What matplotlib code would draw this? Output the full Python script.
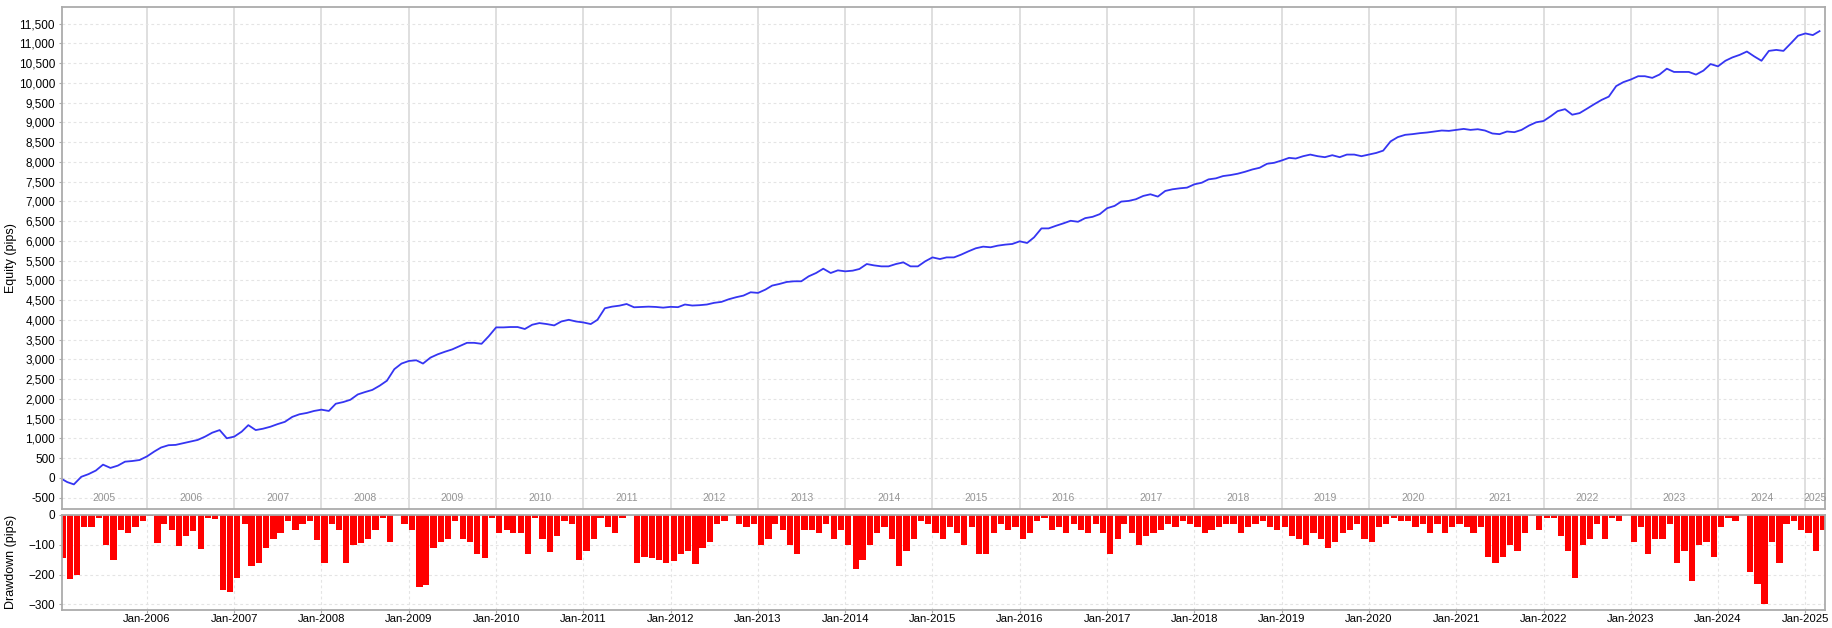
import numpy as np
import pandas as pd
import matplotlib
matplotlib.use("Agg")
import matplotlib.pyplot as plt
import matplotlib.dates as mdates
import matplotlib.ticker as mticker

# ============================================================
# Data (monthly)
# ============================================================
months = pd.date_range("2005-01-01", periods=243, freq="MS")

equity = [
    0, -108, -167, 25, 92, 183, 333, 250, 308, 408, 425, 450,
    542, 667, 767, 825, 833, 875, 917, 958, 1042, 1142, 1208, 1000,
    1042, 1167, 1333, 1208, 1242, 1292, 1358, 1417, 1542, 1608, 1642, 1692,
    1725, 1692, 1875, 1917, 1975, 2110, 2170, 2225, 2333, 2458, 2750, 2892,
    2958, 2975, 2892, 3042, 3125, 3192, 3250, 3333, 3417, 3417, 3392, 3583,
    3808, 3808, 3817, 3817, 3767, 3875, 3917, 3892, 3858, 3958, 4000, 3958,
    3933, 3892, 4000, 4292, 4333, 4358, 4400, 4317, 4325, 4333, 4325, 4308,
    4328, 4320, 4387, 4361, 4370, 4387, 4429, 4454, 4521, 4571, 4613, 4697,
    4681, 4765, 4866, 4908, 4958, 4975, 4975, 5101, 5185, 5294, 5185, 5252,
    5227, 5244, 5286, 5412, 5378, 5353, 5353, 5412, 5454, 5353, 5353, 5479,
    5580, 5538, 5580, 5580, 5650, 5735, 5810, 5852, 5836, 5877, 5903, 5920,
    5987, 5945, 6087, 6314, 6314, 6381, 6440, 6507, 6482, 6574, 6607, 6675,
    6826, 6884, 6993, 7010, 7052, 7136, 7178, 7119, 7262, 7304, 7329, 7346,
    7430, 7471, 7555, 7581, 7639, 7664, 7698, 7748, 7807, 7849, 7950, 7975,
    8033, 8100, 8083, 8142, 8183, 8142, 8117, 8167, 8117, 8183, 8183, 8142,
    8183, 8225, 8283, 8517, 8625, 8683, 8700, 8725, 8742, 8767, 8792, 8783,
    8808, 8833, 8808, 8825, 8792, 8717, 8700, 8767, 8750, 8808, 8917, 9000,
    9033, 9158, 9283, 9333, 9192, 9233, 9342, 9458, 9567, 9650, 9917, 10017,
    10083, 10167, 10167, 10125, 10208, 10358, 10275, 10275, 10275, 10208, 10308, 10475,
    10417, 10558, 10642, 10708, 10792, 10667, 10558, 10808, 10833, 10808, 11000, 11192,
    11250, 11208, 11308,
]

drawdown = [
    -145, -215, -200, -40, -40, -10, -100, -150, -50, -60, -40, -20,
    -5, -95, -30, -50, -105, -70, -55, -115, -10, -15, -250, -260,
    -210, -30, -170, -160, -110, -80, -60, -20, -50, -30, -20, -85,
    -160, -30, -50, -160, -100, -95, -80, -50, -10, -90, 0, -30,
    -50, -240, -235, -110, -90, -80, -20, -80, -90, -130, -145, -10,
    -60, -50, -60, -60, -130, -10, -80, -125, -70, -20, -30, -150,
    -120, -80, -10, -40, -60, -10, 0, -160, -140, -145, -150, -160,
    -155, -130, -120, -165, -110, -90, -30, -20, 0, -30, -40, -30,
    -100, -80, -30, -50, -100, -130, -50, -50, -60, -30, -80, -50,
    -100, -180, -150, -100, -60, -40, -80, -170, -120, -80, -20, -30,
    -60, -80, -40, -60, -100, -40, -130, -130, -60, -30, -50, -40,
    -80, -60, -20, -10, -50, -40, -60, -30, -50, -60, -30, -60,
    -130, -80, -30, -60, -100, -70, -60, -50, -30, -40, -20, -30,
    -40, -60, -50, -40, -30, -30, -60, -40, -30, -20, -40, -50,
    -40, -70, -80, -100, -60, -80, -110, -90, -60, -50, -30, -80,
    -90, -40, -30, -10, -20, -20, -40, -30, -60, -30, -60, -40,
    -30, -40, -60, -40, -140, -160, -140, -100, -120, -60, -5, -50,
    -10, -10, -70, -120, -210, -100, -80, -30, -80, -10, -20, 0,
    -90, -40, -130, -80, -80, -30, -160, -120, -220, -100, -90, -140,
    -40, -10, -20, 0, -190, -230, -300, -90, -160, -30, -20, -50,
    -60, -120, -50,
]

years = list(range(2005, 2026))
x_start = pd.Timestamp("2005-01-10")
x_end = pd.Timestamp("2025-03-24")

# ============================================================
# Figure layout
# ============================================================
plt.rcParams["font.family"] = ["Liberation Sans", "DejaVu Sans"]
fig = plt.figure(figsize=(18.32, 6.28), dpi=100)
ax = fig.add_axes([0.0338, 0.1895, 0.9624, 0.7994])
ax_dd = fig.add_axes([0.0338, 0.0290, 0.9624, 0.1510], sharex=ax)

spine_col = "#ababab"
grid_col = "#e4e4e4"

# ---------------- equity panel ----------------
ax.plot(months, equity, color="#3535f2", lw=1.3)
ax.set_ylim(-790, 11920)
ax.yaxis.set_major_locator(mticker.MultipleLocator(500))
ax.yaxis.set_major_formatter(mticker.FuncFormatter(lambda v, p: f"{int(v):,}"))
ax.set_ylabel("Equity (pips)", fontsize=9)
ax.yaxis.set_label_coords(-0.0255, 0.5)
ax.grid(axis="y", color=grid_col, ls=(0, (2.5, 2.5)), lw=0.8)
for y in years[1:]:
    ax.axvline(pd.Timestamp(f"{y}-01-01"), color="#dcdcdc", lw=1.3, zorder=0)

# year labels at the bottom of the equity panel
trans = matplotlib.transforms.blended_transform_factory(ax.transData, ax.transAxes)
for y in years:
    a = max(pd.Timestamp(f"{y}-01-01"), x_start)
    b = min(pd.Timestamp(f"{y + 1}-01-01"), x_end)
    mid = a + (b - a) / 2
    ax.text(mid, 0.021, str(y), transform=trans, ha="center", va="center",
            fontsize=7.5, color="#949494")
ax.tick_params(axis="x", bottom=False, labelbottom=False)

# ---------------- drawdown panel ----------------
ax_dd.bar(months, drawdown, width=26, align="edge", color="#ff0000", lw=0)
ax_dd.set_ylim(-318, 0)
ax_dd.set_yticks([0, -100, -200, -300])
ax_dd.set_ylabel("Drawdown (pips)", fontsize=9)
ax_dd.yaxis.set_label_coords(-0.0255, 0.5)
ax_dd.grid(color=grid_col, ls=(0, (2.5, 2.5)), lw=0.8)
ax_dd.set_axisbelow(True)

ax_dd.set_xlim(x_start, x_end)
ax_dd.xaxis.set_major_locator(mdates.YearLocator())
ax_dd.xaxis.set_major_formatter(mdates.DateFormatter("%b-%Y"))

for a in (ax, ax_dd):
    for s in a.spines.values():
        s.set_color(spine_col)
        s.set_linewidth(1.3)
    a.tick_params(labelsize=8.5, length=2, color=spine_col, pad=3)
ax_dd.tick_params(axis="x", labelsize=8.2, pad=1)

fig.savefig("out.png", dpi=100, facecolor="white")
